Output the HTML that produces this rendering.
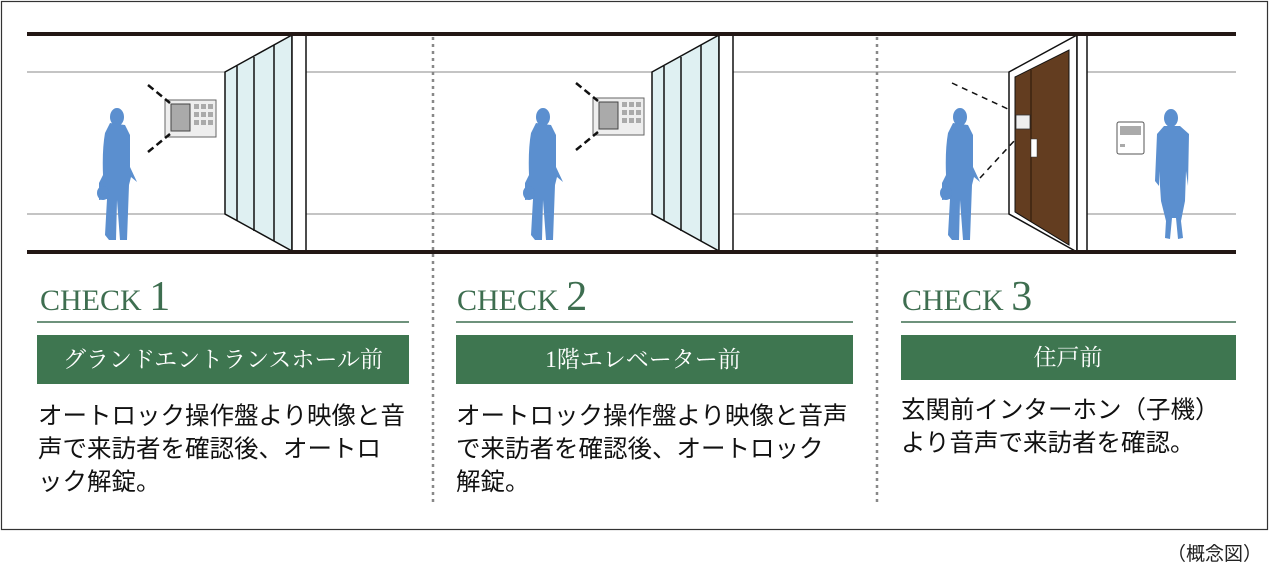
<!DOCTYPE html>
<html><head><meta charset="utf-8"><style>
body{margin:0;background:#fff;}
svg{display:block}
.ck{font-family:"Liberation Serif",serif;fill:#3e6e50}
.lb{font-family:"Liberation Serif","Noto Serif CJK SC",serif;fill:#fff;font-size:23px}
.tx{font-family:"Liberation Sans","Noto Sans CJK JP",sans-serif;fill:#111;font-size:24.5px}
</style></head><body>
<svg width="1270" height="568" viewBox="0 0 1270 568" xmlns="http://www.w3.org/2000/svg">
<rect x="1.5" y="1.5" width="1266" height="528" fill="#fff" stroke="#333" stroke-width="1.2"/>
<g stroke="#888" stroke-width="1">
<line x1="27" y1="72" x2="225" y2="72"/><line x1="27" y1="214" x2="225" y2="214"/>
<line x1="306" y1="72" x2="652" y2="72"/><line x1="306" y1="214" x2="652" y2="214"/>
<line x1="733" y1="72" x2="1009" y2="72"/><line x1="733" y1="214" x2="1009" y2="214"/>
<line x1="1087" y1="72" x2="1236" y2="72"/><line x1="1087" y1="214" x2="1236" y2="214"/>
</g>
<g stroke="#111" stroke-width="1.5">
<polygon points="225,72 292,35 292,251 225,214" fill="#dff0f2"/>
<line x1="237" y1="66" x2="237" y2="221"/><line x1="254" y1="57" x2="254" y2="231"/><line x1="274" y1="45" x2="274" y2="241"/>
<rect x="292" y="35" width="14" height="216" fill="#fff"/>
<polygon points="652,72 719,35 719,251 652,214" fill="#dff0f2"/>
<line x1="664" y1="66" x2="664" y2="221"/><line x1="681" y1="57" x2="681" y2="231"/><line x1="701" y1="45" x2="701" y2="241"/>
<rect x="719" y="35" width="14" height="216" fill="#fff"/>
<polygon points="1009,72 1077,35 1077,252 1009,214" fill="#fff"/>
<rect x="1077" y="35" width="10" height="217" fill="#fff"/>
</g>
<polygon points="1015,77 1069,50 1069,245 1015,212" fill="#633d20" stroke="#111" stroke-width="1"/>
<line x1="1031" y1="70" x2="1031" y2="222" stroke="#2a1608" stroke-width="1"/>
<rect x="1016" y="115" width="14" height="14" fill="#eee" stroke="#333" stroke-width="0.8"/>
<rect x="1031" y="139" width="6" height="18" fill="#fff" stroke="#333" stroke-width="0.5"/>
<g stroke="#231815" stroke-width="4">
<line x1="27" y1="34" x2="1236" y2="34"/><line x1="27" y1="252" x2="1236" y2="252"/>
</g>
<g stroke="#888" stroke-width="2.5" stroke-dasharray="3,4">
<line x1="433" y1="37" x2="433" y2="505"/><line x1="877" y1="37" x2="877" y2="505"/>
</g>
<g>
<rect x="165" y="100" width="51" height="37" fill="#eee" stroke="#666"/>
<rect x="171" y="104" width="19" height="27" fill="#aaa" stroke="#444"/>
<g fill="#aaa"><rect x="194" y="104" width="5" height="5"/><rect x="201" y="104" width="5" height="5"/><rect x="208" y="104" width="5" height="5"/><rect x="194" y="112" width="5" height="5"/><rect x="201" y="112" width="5" height="5"/><rect x="208" y="112" width="5" height="5"/><rect x="194" y="120" width="5" height="5"/><rect x="201" y="120" width="5" height="5"/><rect x="208" y="120" width="5" height="5"/></g>
<path d="M148,85 L170,103 M148,152 L170,134" stroke="#111" stroke-width="2.5" stroke-dasharray="7,4"/>
</g>
<g transform="translate(428,-2)">
<rect x="165" y="100" width="51" height="37" fill="#eee" stroke="#666"/>
<rect x="171" y="104" width="19" height="27" fill="#aaa" stroke="#444"/>
<g fill="#aaa"><rect x="194" y="104" width="5" height="5"/><rect x="201" y="104" width="5" height="5"/><rect x="208" y="104" width="5" height="5"/><rect x="194" y="112" width="5" height="5"/><rect x="201" y="112" width="5" height="5"/><rect x="208" y="112" width="5" height="5"/><rect x="194" y="120" width="5" height="5"/><rect x="201" y="120" width="5" height="5"/><rect x="208" y="120" width="5" height="5"/></g>
<path d="M148,85 L170,103 M148,152 L170,134" stroke="#111" stroke-width="2.5" stroke-dasharray="7,4"/>
</g>
<path d="M952,83 L1010,110 M980,178 L1015,140" stroke="#111" stroke-width="1.5" stroke-dasharray="6,5"/>
<rect x="1117" y="122" width="27" height="32" rx="2" fill="#fff" stroke="#555"/>
<rect x="1120" y="126" width="21" height="9" fill="#aaa"/><rect x="1120" y="144" width="5" height="3" fill="#aaa"/>
<defs>
<g id="p" fill="#5b8fcf">
<ellipse cx="20" cy="12" rx="7" ry="9"/>
<path d="M13,18 L8,28 Q5,45 6,70 L2,78 L2,95 L10,94 L8,130 L12,135 L19,135 L20,95 L23,135 L30,135 L32,80 L34,72 L40,77 L33,62 L33,30 L28,20 Z"/>
<ellipse cx="6" cy="88" rx="6" ry="7"/>
</g>
<g id="q" fill="#5b8fcf">
<ellipse cx="18" cy="12" rx="7" ry="9"/>
<path d="M11,20 L4,28 L2,75 L6,80 L6,65 L8,95 L13,115 L12,132 L17,133 L19,112 L23,112 L25,133 L30,132 L28,115 L32,95 L33,65 L35,80 L36,28 L27,20 Z"/>
</g>
</defs>
<use href="#p" x="97" y="105"/>
<use href="#p" x="523" y="105"/>
<use href="#p" x="940" y="105"/>
<use href="#q" x="1153" y="106"/>
<text class="ck" x="40" y="310" font-size="30">CHECK <tspan font-size="42">1</tspan></text>
<text class="ck" x="457" y="310" font-size="30">CHECK <tspan font-size="42">2</tspan></text>
<text class="ck" x="902" y="310" font-size="30">CHECK <tspan font-size="42">3</tspan></text>
<g stroke="#3e6e50" stroke-width="1.5">
<line x1="37" y1="322" x2="409" y2="322"/><line x1="456" y1="322" x2="853" y2="322"/><line x1="901" y1="322" x2="1236" y2="322"/>
</g>
<g fill="#3e7650">
<rect x="37" y="335" width="372" height="49"/><rect x="456" y="335" width="397" height="49"/><rect x="901" y="335" width="335" height="45"/>
</g>
<text class="lb" x="223" y="367" text-anchor="middle">グランドエントランスホール前</text>
<text class="lb" x="643" y="367" text-anchor="middle">1階エレベーター前</text>
<text class="lb" x="1068" y="365" text-anchor="middle">住戸前</text>
<text class="tx"><tspan x="38" y="424">オートロック操作盤より映像と音</tspan><tspan x="38" y="457">声で来訪者を確認後、オートロ</tspan><tspan x="38" y="490">ック解錠。</tspan></text>
<text class="tx"><tspan x="456" y="424">オートロック操作盤より映像と音声</tspan><tspan x="456" y="457">で来訪者を確認後、オートロック</tspan><tspan x="456" y="490">解錠。</tspan></text>
<text class="tx"><tspan x="901" y="418">玄関前インターホン（子機）</tspan><tspan x="901" y="451">より音声で来訪者を確認。</tspan></text>
<text x="1262" y="560" text-anchor="end" font-family="Liberation Sans,'Noto Sans CJK JP',sans-serif" font-size="19" fill="#222">（概念図）</text>
</svg>
</body></html>
